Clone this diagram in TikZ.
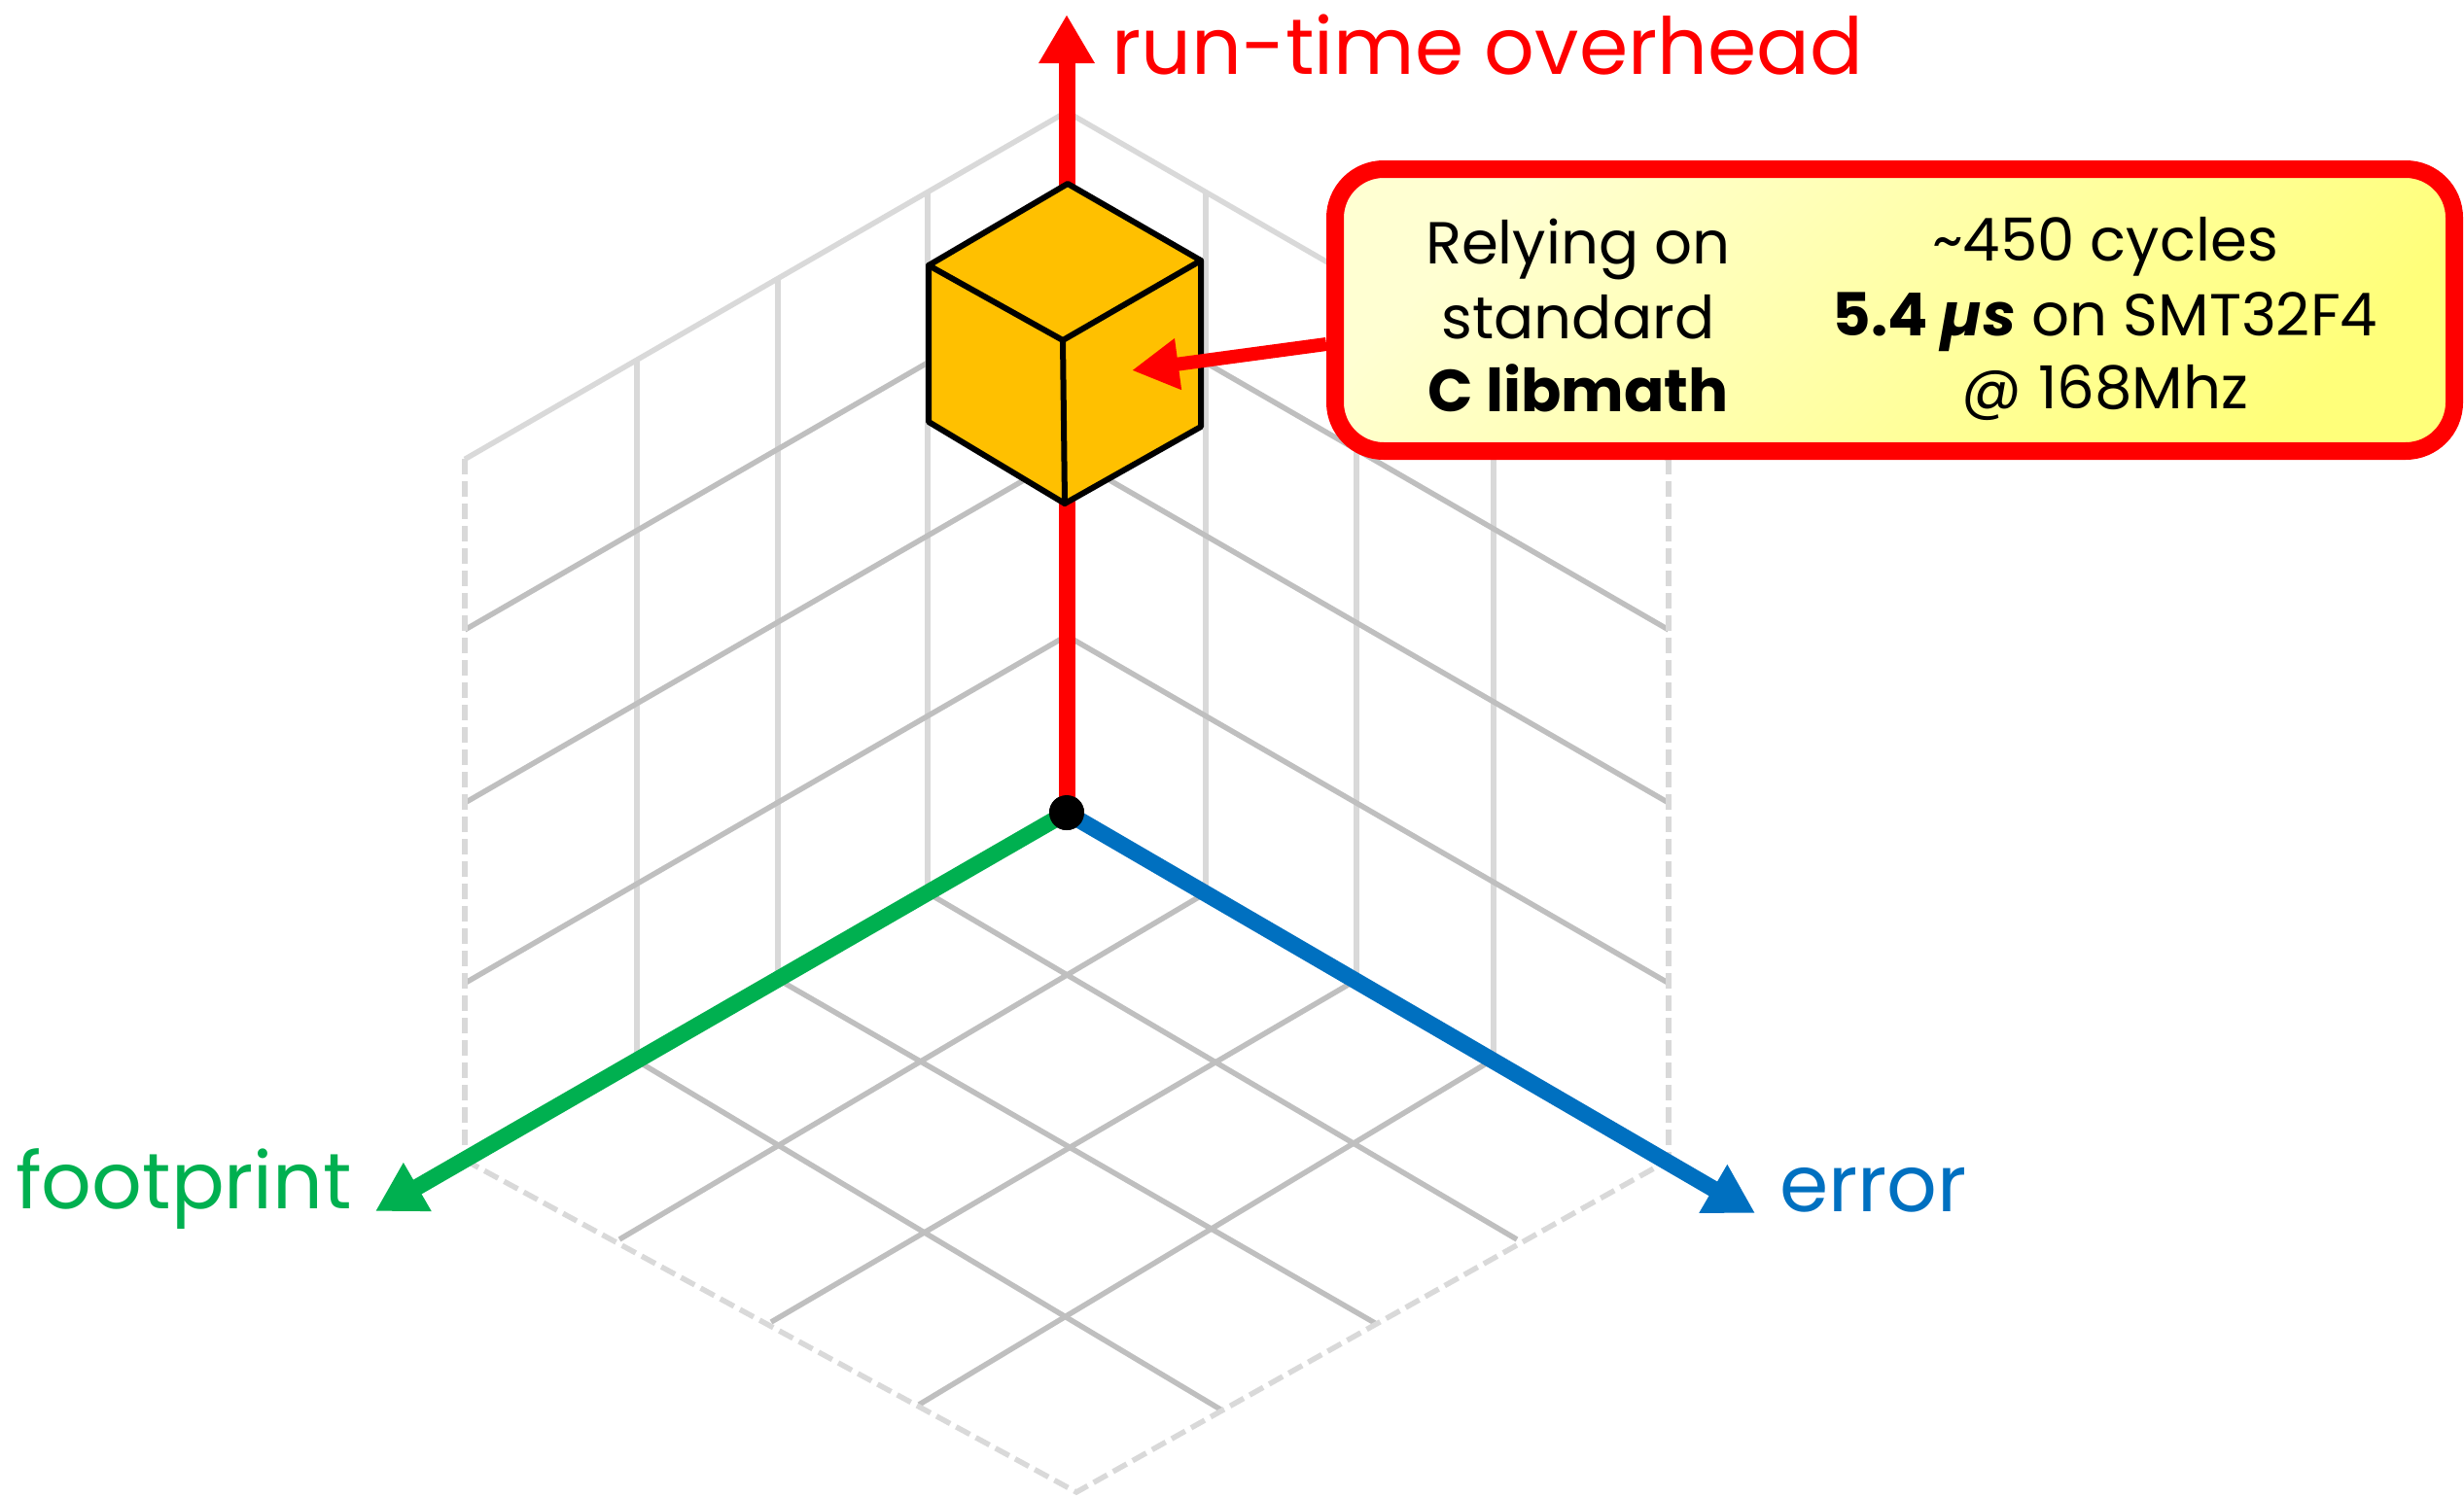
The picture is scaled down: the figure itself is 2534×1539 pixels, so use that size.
\documentclass[tikz,border=0pt]{standalone}
\usepackage{fontspec}
\setmainfont{Poppins}
\usetikzlibrary{arrows.meta,calc}

\definecolor{axisred}{HTML}{FF0000}
\definecolor{axisgreen}{HTML}{00B050}
\definecolor{axisblue}{HTML}{0070C0}
\definecolor{gridgray}{HTML}{BFBFBF}
\definecolor{gridlight}{HTML}{D9D9D9}
\definecolor{cubefill}{HTML}{FFC000}
\definecolor{notetop}{HTML}{FFFFD2}
\definecolor{notebottom}{HTML}{FFFF7A}

\tikzset{
  gridline/.style={draw=gridgray, line width=5.5pt},
  gridpost/.style={draw=gridlight, line width=5.5pt},
  gridedge/.style={draw=gridlight, line width=5.5pt, dash pattern=on 16pt off 7pt},
  axisline/.style={line width=17pt, -{Triangle[length=50pt,width=54pt]}},
  axislabel/.style={inner sep=0pt, anchor=base west, font=\fontsize{81}{97}\selectfont},
  notetext/.style={inner sep=0pt, anchor=base, font=\fontsize{61}{74}\selectfont},
  cubeface/.style={fill=cubefill, draw=black, line width=6pt, line join=round},
  cubeedge/.style={draw=black, line width=6pt, line cap=round},
}

\begin{document}
\begin{tikzpicture}[x=1pt,y=-1pt]
\useasboundingbox (0,0) rectangle (2534,1539);

% ---- back-left wall ----
\draw[gridpost] (954,918.6) -- (954,197.6);
\draw[gridpost] (800,1007.5) -- (800,286.5);
\draw[gridpost] (655,1091.2) -- (655,370.2);
\draw[gridline] (1097,654) -- (478,1011.4);
\draw[gridline] (1097,468.5) -- (478,825.9);
\draw[gridline] (1097,290.5) -- (478,647.9);

% ---- back-right wall ----
\draw[gridpost] (1240,918.6) -- (1240,197.6);
\draw[gridpost] (1395,1008) -- (1395,287);
\draw[gridpost] (1536,1089.5) -- (1536,368.5);
\draw[gridline] (1097,654) -- (1716,1011.4);
\draw[gridline] (1097,468.5) -- (1716,825.9);
\draw[gridline] (1097,290.5) -- (1716,647.9);

% ---- floor ----
\draw[gridline] (954,918.6) -- (1560,1275);
\draw[gridline] (800,1007.5) -- (1414,1361);
\draw[gridline] (655,1091.2) -- (1257,1451);
\draw[gridline] (1240,918.6) -- (637,1275);
\draw[gridline] (1395,1008) -- (793,1360);
\draw[gridline] (1536,1089.5) -- (945,1445);

% ---- outline of the box ----
\draw[gridpost] (478,472.4) -- (1097,115) -- (1716,472.4);
\draw[gridedge] (478,472.4) -- (478,1193.4);
\draw[gridedge] (1716,472.4) -- (1716,1193.4);
\draw[gridedge] (478,1193.4) -- (1107,1535) -- (1716,1193.4);

% ---- axes ----
\coordinate (fptip) at (386,1246);
\coordinate (errtip) at (1805,1248);
\coordinate (rttip) at (1097,15);
\node[circle, fill=black, minimum size=36pt, inner sep=0pt] (origin) at (1097,836) {};
\draw[axisline, axisgreen] (origin.center) -- (fptip);
\draw[axisline, axisblue] (origin.center) -- (errtip);
\draw[axisline, axisred] (origin.center) -- (rttip);
\node[circle, fill=black, minimum size=36pt, inner sep=0pt] at (origin) {};

\node[axislabel, text=axisred] (rtlabel) at (1143.5,76) {run-time overhead};
\node[axislabel, text=axisgreen] (fplabel) at (16,1243) {footprint};
\node[axislabel, text=axisblue] (errlabel) at (1830,1246) {error};

% ---- cube ----
\coordinate (cT) at (1098,189);
\coordinate (cUL) at (955,273);
\coordinate (cUR) at (1235,268);
\coordinate (cC) at (1093,350);
\coordinate (cLL) at (955,434);
\coordinate (cLR) at (1235,439);
\coordinate (cB) at (1095,518);
\filldraw[cubeface] (cT) -- (cUR) -- (cLR) -- (cB) -- (cLL) -- (cUL) -- cycle;
\draw[cubeedge] (cUL) -- (cC) -- (cUR) (cC) -- (cB);

% ---- note ----
\node[draw=axisred, line width=18pt, rounded corners=50pt,
      minimum width=1151pt, minimum height=290pt, inner sep=0pt,
      top color=notetop, bottom color=notebottom, shading angle=45] (note) at (1948.5,319) {};
\coordinate (ptrtip) at (1164,381);
\draw[line width=14pt, axisred, -{Triangle[length=48pt,width=50pt]}]
  ($(note.west)+(0,35)$) -- (ptrtip);

\node[notetext] (l1) at (1623,271) {Relying on};
\node[notetext] (l2) at (1623,348) {standard};
\node[notetext] (l3) at (1623,423) {\bfseries C libmath};
\node[notetext] (r1) at (2165,268) {\textasciitilde 450 cycles};
\node[notetext] (r2) at (2165,345) {\textbf{5.4 \textit{µs}} on SMT32F4};
\node[notetext] (r3) at (2165,420) {@ 168Mhz};
\end{tikzpicture}
\end{document}
